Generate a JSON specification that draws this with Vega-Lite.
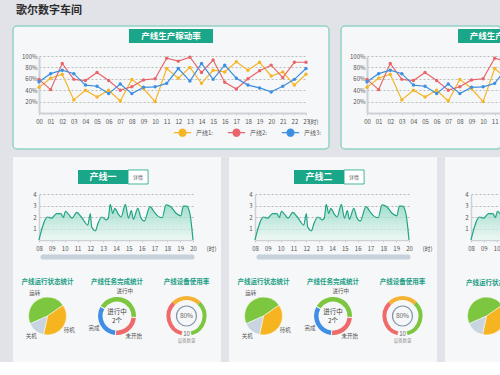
{
"$schema": "https://vega.github.io/schema/vega-lite/v6.json",
"background": "#e1e3e8",
"padding": {"left": 12, "top": 5, "right": 0, "bottom": 0},
"title": {"text": "歌尔数字车间", "anchor": "start", "frame": "group", "fontSize": 11, "fontWeight": "bold", "color": "#2b2b2b", "offset": 9, "dx": 3},
"config": {
  "font": "Noto Sans CJK SC",
  "view": {"stroke": null},
  "axis": {"labelFontSize": 6, "labelColor": "#555555", "domainColor": "#cdd1d6", "tickColor": "#cdd1d6", "labelFont": "Noto Sans CJK SC", "titleFont": "Noto Sans CJK SC", "labelOverlap": false},
  "title": {"font": "Noto Sans CJK SC"},
  "legend": {"labelFont": "Noto Sans CJK SC"}
},
"datasets": {
  "rate": [
    {"h":0,"s":"产线1","v":45},{"h":1,"s":"产线1","v":61},{"h":2,"s":"产线1","v":68},{"h":3,"s":"产线1","v":23},{"h":4,"s":"产线1","v":40},{"h":5,"s":"产线1","v":28},{"h":6,"s":"产线1","v":40},{"h":7,"s":"产线1","v":21},{"h":8,"s":"产线1","v":59},{"h":9,"s":"产线1","v":43},{"h":10,"s":"产线1","v":20},{"h":11,"s":"产线1","v":78},{"h":12,"s":"产线1","v":61},{"h":13,"s":"产线1","v":80},{"h":14,"s":"产线1","v":52},{"h":15,"s":"产线1","v":75},{"h":16,"s":"产线1","v":72},{"h":17,"s":"产线1","v":90},{"h":18,"s":"产线1","v":75},{"h":19,"s":"产线1","v":89},{"h":20,"s":"产线1","v":65},{"h":21,"s":"产线1","v":72},{"h":22,"s":"产线1","v":49},{"h":23,"s":"产线1","v":68},
    {"h":0,"s":"产线2","v":59},{"h":1,"s":"产线2","v":41},{"h":2,"s":"产线2","v":87},{"h":3,"s":"产线2","v":59},{"h":4,"s":"产线2","v":57},{"h":5,"s":"产线2","v":71},{"h":6,"s":"产线2","v":57},{"h":7,"s":"产线2","v":40},{"h":8,"s":"产线2","v":46},{"h":9,"s":"产线2","v":58},{"h":10,"s":"产线2","v":60},{"h":11,"s":"产线2","v":96},{"h":12,"s":"产线2","v":91},{"h":13,"s":"产线2","v":98},{"h":14,"s":"产线2","v":71},{"h":15,"s":"产线2","v":93},{"h":16,"s":"产线2","v":54},{"h":17,"s":"产线2","v":42},{"h":18,"s":"产线2","v":60},{"h":19,"s":"产线2","v":74},{"h":20,"s":"产线2","v":84},{"h":21,"s":"产线2","v":62},{"h":22,"s":"产线2","v":89},{"h":23,"s":"产线2","v":89},
    {"h":0,"s":"产线3","v":55},{"h":1,"s":"产线3","v":69},{"h":2,"s":"产线3","v":75},{"h":3,"s":"产线3","v":69},{"h":4,"s":"产线3","v":49},{"h":5,"s":"产线3","v":47},{"h":6,"s":"产线3","v":34},{"h":7,"s":"产线3","v":51},{"h":8,"s":"产线3","v":34},{"h":9,"s":"产线3","v":45},{"h":10,"s":"产线3","v":46},{"h":11,"s":"产线3","v":52},{"h":12,"s":"产线3","v":78},{"h":13,"s":"产线3","v":56},{"h":14,"s":"产线3","v":87},{"h":15,"s":"产线3","v":59},{"h":16,"s":"产线3","v":84},{"h":17,"s":"产线3","v":61},{"h":18,"s":"产线3","v":49},{"h":19,"s":"产线3","v":44},{"h":20,"s":"产线3","v":37},{"h":21,"s":"产线3","v":47},{"h":22,"s":"产线3","v":59},{"h":23,"s":"产线3","v":78}
  ],
  "load": [
    {"t":8.0,"v":0},{"t":8.67,"v":2.0},{"t":8.98,"v":1.9},{"t":9.37,"v":2.3},{"t":9.7,"v":2.3},{"t":9.9,"v":1.95},{"t":10.06,"v":2.5},{"t":10.3,"v":2.25},{"t":10.58,"v":1.9},{"t":10.94,"v":2.4},{"t":11.3,"v":2.0},{"t":11.8,"v":1.3},{"t":12.0,"v":2.3},{"t":12.1,"v":1.15},{"t":12.4,"v":0.8},{"t":12.6,"v":1.45},{"t":12.9,"v":2.0},{"t":13.24,"v":1.75},{"t":13.4,"v":1.9},{"t":13.55,"v":3.1},{"t":13.75,"v":2.3},{"t":13.9,"v":2.75},{"t":14.2,"v":2.2},{"t":14.4,"v":2.0},{"t":14.73,"v":3.1},{"t":14.97,"v":1.9},{"t":15.2,"v":2.55},{"t":15.35,"v":1.8},{"t":15.7,"v":2.75},{"t":15.95,"v":1.9},{"t":16.2,"v":1.65},{"t":16.65,"v":2.9},{"t":17.0,"v":2.4},{"t":17.37,"v":2.0},{"t":17.6,"v":1.95},{"t":17.9,"v":3.05},{"t":18.27,"v":2.9},{"t":18.7,"v":2.3},{"t":19.05,"v":2.1},{"t":19.25,"v":2.95},{"t":19.5,"v":2.95},{"t":19.76,"v":2.3},{"t":20.0,"v":0}
  ]
},
"spacing": 7,
"resolve": {"scale": {"color": "independent", "theta": "independent", "x": "independent", "y": "independent"}},
"vconcat": [
  {
    "spacing": 10,
    "resolve": {"scale": {"color": "independent", "theta": "independent", "x": "independent", "y": "independent"}},
    "hconcat": [
      {
        "width": 316, "height": 123,
        "view": {"fill": "#f6f7f8", "stroke": "#92d3c6", "strokeWidth": 1.5, "cornerRadius": 4},
        "encoding": {
          "x": {"type": "quantitative", "scale": {"domain": [0, 23], "range": [26, 293], "nice": false, "zero": false},
                "axis": {"values": [0,1,2,3,4,5,6,7,8,9,10,11,12,13,14,15,16,17,18,19,20,21,22,23], "labelExpr": "datum.value < 10 ? '0' + datum.value : '' + datum.value", "offset": -36, "grid": false, "domainWidth": 2, "tickSize": 2, "labelPadding": 3, "labelOverlap": false, "labelFlush": false, "title": "(时)", "titleX": 300, "titleY": 5, "titleAlign": "center", "titleBaseline": "top", "titleFontSize": 6, "titleFontWeight": "normal", "titleColor": "#555555"}},
          "y": {"type": "quantitative", "scale": {"domain": [0, 100], "range": [87, 30], "nice": false, "zero": false},
                "axis": {"values": [20,40,60,80,100], "labelExpr": "datum.value + '%'", "offset": -26, "grid": true, "gridDash": [2,2], "gridColor": "#a0a0a0", "gridWidth": 0.7, "domainWidth": 2, "ticks": false, "labelPadding": 2, "labelOverlap": false, "title": null}}
        },
        "layer": [
          {
            "data": {"name": "rate"},
            "mark": {"type": "line", "strokeWidth": 1.2, "point": {"filled": true, "size": 12}},
            "encoding": {
              "x": {"field": "h"},
              "y": {"field": "v"},
              "color": {"field": "s", "type": "nominal", "scale": {"domain": ["产线1","产线2","产线3"], "range": ["#f5b526","#e8666b","#3d8fe0"]},
                        "legend": {"orient": "none", "legendX": 160, "legendY": 97, "direction": "horizontal", "title": null, "labelFontSize": 6, "labelColor": "#555555", "symbolType": "M-1,0L-0.4,0M0.4,0L1,0M0.4,0A0.4,0.4,0,1,1,-0.4,0A0.4,0.4,0,1,1,0.4,0", "symbolSize": 300, "symbolStrokeWidth": 1.3, "columnPadding": 12, "labelExpr": "datum.label + ':'"}}
            }
          },
          {
            "data": {"values": [{}]},
            "mark": {"type": "rect", "color": "#1aa689"},
            "encoding": {"x": {"datum": 7.75}, "x2": {"datum": 14.99}, "y": {"datum": 147.4}, "y2": {"datum": 122.8}}
          },
          {
            "data": {"values": [{}]},
            "mark": {"type": "text", "text": "产线生产稼动率", "color": "#ffffff", "fontSize": 8.5, "fontWeight": "bold"},
            "encoding": {"x": {"datum": 11.37}, "y": {"datum": 135}}
          }
        ]
      },
      {
        "width": 160, "height": 123,
        "view": {"fill": "#f6f7f8", "stroke": "#92d3c6", "strokeWidth": 1.5, "cornerRadius": 4},
        "encoding": {
          "x": {"type": "quantitative", "scale": {"domain": [0, 11.5], "range": [26, 159.5], "nice": false, "zero": false},
                "axis": {"values": [0,1,2,3,4,5,6,7,8,9,10,11], "labelExpr": "datum.value < 10 ? '0' + datum.value : '' + datum.value", "offset": -36, "grid": false, "domainWidth": 2, "tickSize": 2, "labelPadding": 3, "labelOverlap": false, "labelFlush": false, "title": null}},
          "y": {"type": "quantitative", "scale": {"domain": [0, 100], "range": [87, 30], "nice": false, "zero": false},
                "axis": {"values": [20,40,60,80,100], "labelExpr": "datum.value + '%'", "offset": -26, "grid": true, "gridDash": [2,2], "gridColor": "#a0a0a0", "gridWidth": 0.7, "domainWidth": 2, "ticks": false, "labelPadding": 2, "labelOverlap": false, "title": null}}
        },
        "layer": [
          {
            "data": {"name": "rate"},
            "mark": {"type": "line", "strokeWidth": 1.2, "clip": true},
            "encoding": {
              "x": {"field": "h"},
              "y": {"field": "v"},
              "color": {"field": "s", "type": "nominal", "scale": {"domain": ["产线1","产线2","产线3"], "range": ["#f5b526","#e8666b","#3d8fe0"]}, "legend": null}
            }
          },
          {
            "data": {"name": "rate"},
            "transform": [{"filter": "datum.h <= 11"}],
            "mark": {"type": "point", "filled": true, "size": 12, "opacity": 1},
            "encoding": {
              "x": {"field": "h"},
              "y": {"field": "v"},
              "color": {"field": "s", "type": "nominal", "scale": {"domain": ["产线1","产线2","产线3"], "range": ["#f5b526","#e8666b","#3d8fe0"]}, "legend": null}
            }
          },
          {
            "data": {"values": [{}]},
            "mark": {"type": "rect", "color": "#1aa689", "clip": true},
            "encoding": {"x": {"datum": 7.84}, "x2": {"datum": 11.5}, "y": {"datum": 147.4}, "y2": {"datum": 122.8}}
          },
          {
            "data": {"values": [{}]},
            "mark": {"type": "text", "text": "产线生产稼动率", "color": "#ffffff", "fontSize": 8.5, "fontWeight": "bold", "align": "left", "clip": true},
            "encoding": {"x": {"datum": 8.85}, "y": {"datum": 135}}
          }
        ]
      }
    ]
  },
  {
    "spacing": 8,
    "resolve": {"scale": {"color": "independent", "theta": "independent", "x": "independent", "y": "independent"}},
    "hconcat": [
      {
        "spacing": 0,
        "resolve": {"scale": {"color": "independent", "theta": "independent", "x": "independent", "y": "independent"}},
        "vconcat": [
          {
            "width": 208, "height": 113,
            "view": {"fill": "#f6f7f8", "stroke": null},
            "encoding": {
              "x": {"type": "quantitative", "scale": {"domain": [8, 20], "range": [26, 180], "nice": false, "zero": false},
                    "axis": {"values": [8,9,10,11,12,13,14,15,16,17,18,19,20], "labelExpr": "datum.value < 10 ? '0' + datum.value : '' + datum.value", "offset": -30, "grid": false, "domainWidth": 1.5, "tickSize": 2, "labelPadding": 3, "labelOverlap": false, "labelFlush": false, "title": "(时)", "titleX": 198, "titleY": 5, "titleAlign": "center", "titleBaseline": "top", "titleFontSize": 6, "titleFontWeight": "normal", "titleColor": "#555555"}},
              "y": {"type": "quantitative", "scale": {"domain": [0, 4], "range": [83, 37], "nice": false, "zero": false},
                    "axis": {"values": [1,2,3,4], "offset": -26, "grid": true, "gridDash": [2,2], "gridColor": "#999999", "gridWidth": 0.7, "ticks": false, "domainWidth": 1.5, "labelPadding": 3, "labelOverlap": false, "title": null}}
            },
            "layer": [
              {
                "data": {"name": "load"},
                "mark": {"type": "area", "interpolate": "monotone", "line": {"color": "#22a386", "strokeWidth": 1.2},
                         "color": {"gradient": "linear", "x1": 0, "y1": 0, "x2": 0, "y2": 1, "stops": [{"offset": 0, "color": "#7ed3bb"}, {"offset": 1, "color": "#eaf7f2"}]}},
                "encoding": {"x": {"field": "t"}, "y": {"field": "v"}}
              },
              {
                "data": {"values": [{}]},
                "mark": {"type": "rect", "color": "#1aa689"},
                "encoding": {"x": {"datum": 11.04}, "x2": {"datum": 14.94}, "y": {"datum": 6.09}, "y2": {"datum": 4.87}}
              },
              {
                "data": {"values": [{}]},
                "mark": {"type": "rect", "fill": "#ffffff", "stroke": "#1aa689", "strokeWidth": 0.8},
                "encoding": {"x": {"datum": 14.94}, "x2": {"datum": 16.5}, "y": {"datum": 6.09}, "y2": {"datum": 4.87}}
              },
              {
                "data": {"values": [{}]},
                "mark": {"type": "text", "text": "产线一", "color": "#ffffff", "fontSize": 9, "fontWeight": "bold"},
                "encoding": {"x": {"datum": 12.99}, "y": {"datum": 5.48}}
              },
              {
                "data": {"values": [{}]},
                "mark": {"type": "text", "text": "详情", "color": "#555555", "fontSize": 5},
                "encoding": {"x": {"datum": 15.72}, "y": {"datum": 5.48}}
              },
              {
                "data": {"values": [{}]},
                "mark": {"type": "rule", "color": "#c7d1dc", "strokeWidth": 5, "strokeCap": "round"},
                "encoding": {"x": {"datum": 8.31}, "x2": {"datum": 19.92}, "y": {"datum": -1.48}}
              }
            ]
          },
          {
            "spacing": 0,
            "resolve": {"scale": {"color": "independent", "theta": "independent"}},
            "hconcat": [
              {
                "width": 69, "height": 92,
                "view": {"fill": "#f6f7f8", "stroke": null},
                "title": {"text": "产线运行状态统计", "fontSize": 6.5, "fontWeight": "bold", "color": "#1a9e85", "offset": -18, "baseline": "middle", "frame": "group"},
                "data": {"values": [{"k": "运转", "v": 47, "o": 1}, {"k": "待机", "v": 38, "o": 2}, {"k": "关机", "v": 15, "o": 3}]},
                "encoding": {"theta": {"field": "v", "type": "quantitative", "stack": true, "scale": {"range": [4.294, 10.577]}}, "order": {"field": "o"}},
                "layer": [
                  {"mark": {"type": "arc", "outerRadius": 19, "stroke": "#ffffff", "strokeWidth": 0.5},
                   "encoding": {"color": {"field": "k", "type": "nominal", "scale": {"domain": ["运转","待机","关机"], "range": ["#7dc63f","#f6b420","#c8d4df"]}, "legend": null}}},
                  {"mark": {"type": "text", "radius": 26, "fontSize": 5.5, "color": "#555555"},
                   "encoding": {"text": {"field": "k"}}}
                ]
              },
              {
                "width": 70, "height": 92,
                "view": {"fill": "#f6f7f8", "stroke": null},
                "title": {"text": "产线任务完成统计", "fontSize": 6.5, "fontWeight": "bold", "color": "#1a9e85", "offset": -18, "baseline": "middle", "frame": "group"},
                "layer": [
                  {"data": {"values": [{"k": "进行中", "v": 43, "o": 1}, {"k": "未开始", "v": 25, "o": 2}, {"k": "完成", "v": 32, "o": 3}]},
                   "mark": {"type": "arc", "outerRadius": 19, "innerRadius": 14.5, "padAngle": 0.04},
                   "encoding": {"theta": {"field": "v", "type": "quantitative", "stack": true, "scale": {"range": [5.236, 11.519]}}, "order": {"field": "o"},
                                "color": {"field": "k", "type": "nominal", "scale": {"domain": ["进行中","未开始","完成"], "range": ["#7dc63f","#ef6b6b","#3e8ee6"]}, "legend": null}}},
                  {"data": {"values": [{"k": "进行中", "v": 43, "o": 1}, {"k": "未开始", "v": 25, "o": 2}, {"k": "完成", "v": 32, "o": 3}]},
                   "mark": {"type": "text", "radius": 26, "fontSize": 5.5, "color": "#555555"},
                   "encoding": {"theta": {"field": "v", "type": "quantitative", "stack": true, "scale": {"range": [5.236, 11.519]}}, "order": {"field": "o"}, "text": {"field": "k"}}},
                  {"data": {"values": [{"c": "进行中"}]},
                   "mark": {"type": "text", "fontSize": 6.5, "color": "#444444", "dy": -4},
                   "encoding": {"text": {"field": "c"}}},
                  {"data": {"values": [{"c": "2个"}]},
                   "mark": {"type": "text", "fontSize": 6.5, "color": "#444444", "dy": 5},
                   "encoding": {"text": {"field": "c"}}}
                ]
              },
              {
                "width": 69, "height": 92,
                "view": {"fill": "#f6f7f8", "stroke": null},
                "title": {"text": "产线设备使用率", "fontSize": 6.5, "fontWeight": "bold", "color": "#1a9e85", "offset": -18, "baseline": "middle", "frame": "group"},
                "layer": [
                  {"data": {"values": [{"k": "低", "v": 120, "o": 1}, {"k": "中", "v": 90, "o": 2}, {"k": "高", "v": 120, "o": 3}]},
                   "mark": {"type": "arc", "outerRadius": 20, "innerRadius": 16},
                   "encoding": {"theta": {"field": "v", "type": "quantitative", "stack": true, "scale": {"range": [3.403, 9.163]}}, "order": {"field": "o"},
                                "color": {"field": "k", "type": "nominal", "scale": {"domain": ["低","中","高"], "range": ["#ef6b6b","#f5b233","#7dc63f"]}, "legend": null}}},
                  {"data": {"values": [{"c": "80%"}]},
                   "mark": {"type": "point", "shape": "circle", "size": 400, "filled": false, "stroke": "#8095a9", "strokeWidth": 1.2, "opacity": 1},
                   "encoding": {}},
                  {"data": {"values": [{"c": "80%"}]},
                   "mark": {"type": "text", "fontSize": 6.5, "color": "#666666"},
                   "encoding": {"text": {"field": "c"}}},
                  {"data": {"values": [{"c": "10"}]},
                   "mark": {"type": "text", "fontSize": 6, "color": "#666666", "dy": 18},
                   "encoding": {"text": {"field": "c"}}},
                  {"data": {"values": [{"c": "设备数量"}]},
                   "mark": {"type": "text", "fontSize": 4.5, "color": "#999999", "dy": 25},
                   "encoding": {"text": {"field": "c"}}}
                ]
              }
            ]
          }
        ]
      },
      {
        "spacing": 0,
        "resolve": {"scale": {"color": "independent", "theta": "independent", "x": "independent", "y": "independent"}},
        "vconcat": [
          {
            "width": 208, "height": 113,
            "view": {"fill": "#f6f7f8", "stroke": null},
            "encoding": {
              "x": {"type": "quantitative", "scale": {"domain": [8, 20], "range": [26, 180], "nice": false, "zero": false},
                    "axis": {"values": [8,9,10,11,12,13,14,15,16,17,18,19,20], "labelExpr": "datum.value < 10 ? '0' + datum.value : '' + datum.value", "offset": -30, "grid": false, "domainWidth": 1.5, "tickSize": 2, "labelPadding": 3, "labelOverlap": false, "labelFlush": false, "title": "(时)", "titleX": 198, "titleY": 5, "titleAlign": "center", "titleBaseline": "top", "titleFontSize": 6, "titleFontWeight": "normal", "titleColor": "#555555"}},
              "y": {"type": "quantitative", "scale": {"domain": [0, 4], "range": [83, 37], "nice": false, "zero": false},
                    "axis": {"values": [1,2,3,4], "offset": -26, "grid": true, "gridDash": [2,2], "gridColor": "#999999", "gridWidth": 0.7, "ticks": false, "domainWidth": 1.5, "labelPadding": 3, "labelOverlap": false, "title": null}}
            },
            "layer": [
              {
                "data": {"name": "load"},
                "mark": {"type": "area", "interpolate": "monotone", "line": {"color": "#22a386", "strokeWidth": 1.2},
                         "color": {"gradient": "linear", "x1": 0, "y1": 0, "x2": 0, "y2": 1, "stops": [{"offset": 0, "color": "#7ed3bb"}, {"offset": 1, "color": "#eaf7f2"}]}},
                "encoding": {"x": {"field": "t"}, "y": {"field": "v"}}
              },
              {
                "data": {"values": [{}]},
                "mark": {"type": "rect", "color": "#1aa689"},
                "encoding": {"x": {"datum": 11.04}, "x2": {"datum": 14.94}, "y": {"datum": 6.09}, "y2": {"datum": 4.87}}
              },
              {
                "data": {"values": [{}]},
                "mark": {"type": "rect", "fill": "#ffffff", "stroke": "#1aa689", "strokeWidth": 0.8},
                "encoding": {"x": {"datum": 14.94}, "x2": {"datum": 16.5}, "y": {"datum": 6.09}, "y2": {"datum": 4.87}}
              },
              {
                "data": {"values": [{}]},
                "mark": {"type": "text", "text": "产线二", "color": "#ffffff", "fontSize": 9, "fontWeight": "bold"},
                "encoding": {"x": {"datum": 12.99}, "y": {"datum": 5.48}}
              },
              {
                "data": {"values": [{}]},
                "mark": {"type": "text", "text": "详情", "color": "#555555", "fontSize": 5},
                "encoding": {"x": {"datum": 15.72}, "y": {"datum": 5.48}}
              },
              {
                "data": {"values": [{}]},
                "mark": {"type": "rule", "color": "#c7d1dc", "strokeWidth": 5, "strokeCap": "round"},
                "encoding": {"x": {"datum": 8.31}, "x2": {"datum": 19.92}, "y": {"datum": -1.48}}
              }
            ]
          },
          {
            "spacing": 0,
            "resolve": {"scale": {"color": "independent", "theta": "independent"}},
            "hconcat": [
              {
                "width": 69, "height": 92,
                "view": {"fill": "#f6f7f8", "stroke": null},
                "title": {"text": "产线运行状态统计", "fontSize": 6.5, "fontWeight": "bold", "color": "#1a9e85", "offset": -18, "baseline": "middle", "frame": "group"},
                "data": {"values": [{"k": "运转", "v": 47, "o": 1}, {"k": "待机", "v": 38, "o": 2}, {"k": "关机", "v": 15, "o": 3}]},
                "encoding": {"theta": {"field": "v", "type": "quantitative", "stack": true, "scale": {"range": [4.294, 10.577]}}, "order": {"field": "o"}},
                "layer": [
                  {"mark": {"type": "arc", "outerRadius": 19, "stroke": "#ffffff", "strokeWidth": 0.5},
                   "encoding": {"color": {"field": "k", "type": "nominal", "scale": {"domain": ["运转","待机","关机"], "range": ["#7dc63f","#f6b420","#c8d4df"]}, "legend": null}}},
                  {"mark": {"type": "text", "radius": 26, "fontSize": 5.5, "color": "#555555"},
                   "encoding": {"text": {"field": "k"}}}
                ]
              },
              {
                "width": 70, "height": 92,
                "view": {"fill": "#f6f7f8", "stroke": null},
                "title": {"text": "产线任务完成统计", "fontSize": 6.5, "fontWeight": "bold", "color": "#1a9e85", "offset": -18, "baseline": "middle", "frame": "group"},
                "layer": [
                  {"data": {"values": [{"k": "进行中", "v": 43, "o": 1}, {"k": "未开始", "v": 25, "o": 2}, {"k": "完成", "v": 32, "o": 3}]},
                   "mark": {"type": "arc", "outerRadius": 19, "innerRadius": 14.5, "padAngle": 0.04},
                   "encoding": {"theta": {"field": "v", "type": "quantitative", "stack": true, "scale": {"range": [5.236, 11.519]}}, "order": {"field": "o"},
                                "color": {"field": "k", "type": "nominal", "scale": {"domain": ["进行中","未开始","完成"], "range": ["#7dc63f","#ef6b6b","#3e8ee6"]}, "legend": null}}},
                  {"data": {"values": [{"k": "进行中", "v": 43, "o": 1}, {"k": "未开始", "v": 25, "o": 2}, {"k": "完成", "v": 32, "o": 3}]},
                   "mark": {"type": "text", "radius": 26, "fontSize": 5.5, "color": "#555555"},
                   "encoding": {"theta": {"field": "v", "type": "quantitative", "stack": true, "scale": {"range": [5.236, 11.519]}}, "order": {"field": "o"}, "text": {"field": "k"}}},
                  {"data": {"values": [{"c": "进行中"}]},
                   "mark": {"type": "text", "fontSize": 6.5, "color": "#444444", "dy": -4},
                   "encoding": {"text": {"field": "c"}}},
                  {"data": {"values": [{"c": "2个"}]},
                   "mark": {"type": "text", "fontSize": 6.5, "color": "#444444", "dy": 5},
                   "encoding": {"text": {"field": "c"}}}
                ]
              },
              {
                "width": 69, "height": 92,
                "view": {"fill": "#f6f7f8", "stroke": null},
                "title": {"text": "产线设备使用率", "fontSize": 6.5, "fontWeight": "bold", "color": "#1a9e85", "offset": -18, "baseline": "middle", "frame": "group"},
                "layer": [
                  {"data": {"values": [{"k": "低", "v": 120, "o": 1}, {"k": "中", "v": 90, "o": 2}, {"k": "高", "v": 120, "o": 3}]},
                   "mark": {"type": "arc", "outerRadius": 20, "innerRadius": 16},
                   "encoding": {"theta": {"field": "v", "type": "quantitative", "stack": true, "scale": {"range": [3.403, 9.163]}}, "order": {"field": "o"},
                                "color": {"field": "k", "type": "nominal", "scale": {"domain": ["低","中","高"], "range": ["#ef6b6b","#f5b233","#7dc63f"]}, "legend": null}}},
                  {"data": {"values": [{"c": "80%"}]},
                   "mark": {"type": "point", "shape": "circle", "size": 400, "filled": false, "stroke": "#8095a9", "strokeWidth": 1.2, "opacity": 1},
                   "encoding": {}},
                  {"data": {"values": [{"c": "80%"}]},
                   "mark": {"type": "text", "fontSize": 6.5, "color": "#666666"},
                   "encoding": {"text": {"field": "c"}}},
                  {"data": {"values": [{"c": "10"}]},
                   "mark": {"type": "text", "fontSize": 6, "color": "#666666", "dy": 18},
                   "encoding": {"text": {"field": "c"}}},
                  {"data": {"values": [{"c": "设备数量"}]},
                   "mark": {"type": "text", "fontSize": 4.5, "color": "#999999", "dy": 25},
                   "encoding": {"text": {"field": "c"}}}
                ]
              }
            ]
          }
        ]
      },
      {
        "spacing": 0,
        "resolve": {"scale": {"color": "independent", "theta": "independent", "x": "independent", "y": "independent"}},
        "vconcat": [
          {
            "width": 55, "height": 113,
            "view": {"fill": "#f6f7f8", "stroke": null},
            "layer": [
              {
                "data": {"name": "load"},
                "mark": {"type": "area", "interpolate": "monotone", "clip": true, "line": {"color": "#22a386", "strokeWidth": 1.2},
                         "color": {"gradient": "linear", "x1": 0, "y1": 0, "x2": 0, "y2": 1, "stops": [{"offset": 0, "color": "#7ed3bb"}, {"offset": 1, "color": "#eaf7f2"}]}},
                "encoding": {
                  "x": {"field": "t", "type": "quantitative", "scale": {"domain": [8, 10.2], "range": [26, 54.2], "nice": false, "zero": false},
                        "axis": {"values": [8,9,10], "labelExpr": "datum.value < 10 ? '0' + datum.value : '' + datum.value", "offset": -30, "grid": false, "domainWidth": 1.5, "tickSize": 2, "labelPadding": 3, "labelOverlap": false, "labelFlush": false, "title": null}},
                  "y": {"field": "v", "type": "quantitative", "scale": {"domain": [0, 4], "range": [83, 37], "nice": false, "zero": false},
                        "axis": {"values": [1,2,3,4], "offset": -26, "grid": true, "gridDash": [2,2], "gridColor": "#999999", "gridWidth": 0.7, "ticks": false, "domainWidth": 1.5, "labelPadding": 3, "labelOverlap": false, "title": null}}
                }
              }
            ]
          },
          {
            "width": 55, "height": 92,
            "view": {"fill": "#f6f7f8", "stroke": null},
            "layer": [
              {"data": {"values": [{"k": "运转", "v": 47, "o": 1}, {"k": "待机", "v": 38, "o": 2}, {"k": "关机", "v": 15, "o": 3}]},
               "mark": {"type": "arc", "outerRadius": 19, "stroke": "#ffffff", "strokeWidth": 0.5, "xOffset": 14, "clip": true},
               "encoding": {"theta": {"field": "v", "type": "quantitative", "stack": true, "scale": {"range": [4.294, 10.577]}}, "order": {"field": "o"},
                            "color": {"field": "k", "type": "nominal", "scale": {"domain": ["运转","待机","关机"], "range": ["#7dc63f","#f6b420","#c8d4df"]}, "legend": null}}},
              {"data": {"values": [{"c": "产线运行状态统计"}]},
               "mark": {"type": "text", "fontSize": 6.5, "fontWeight": "bold", "color": "#1a9e85", "align": "left", "dx": -6.5, "dy": -33, "clip": true},
               "encoding": {"text": {"field": "c"}}}
            ]
          }
        ]
      }
    ]
  }
]
}
